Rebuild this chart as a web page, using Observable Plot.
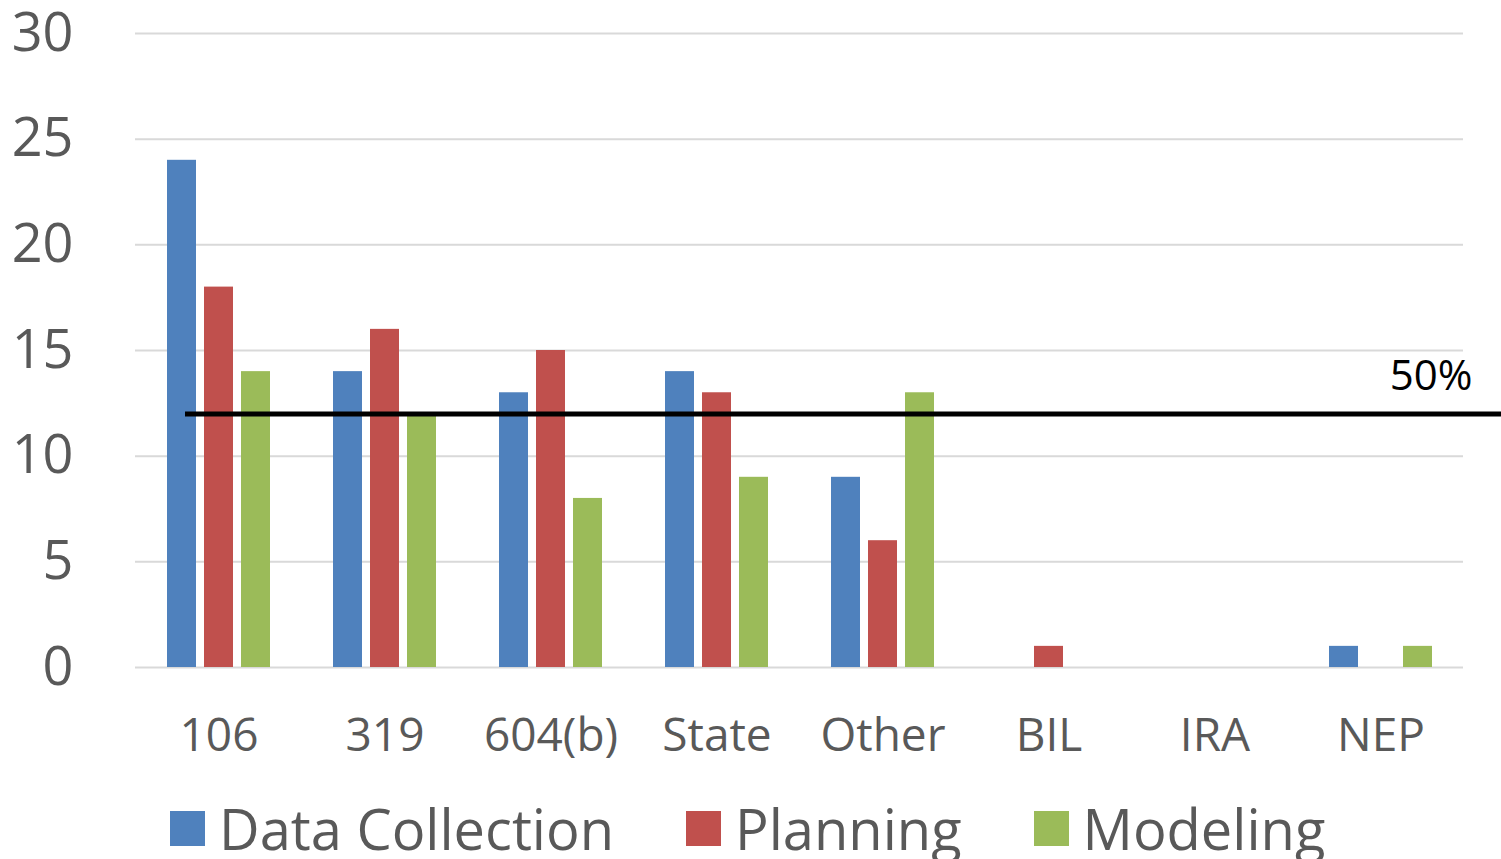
<!DOCTYPE html>
<html><head><meta charset="utf-8">
<script src="https://cdn.jsdelivr.net/npm/d3@7"></script>
<script src="https://cdn.jsdelivr.net/npm/@observablehq/plot@0.6"></script>
<style>
html,body{margin:0;padding:0;background:#fff;}
body{width:1501px;height:859px;overflow:hidden;font-family:"Open Sans",sans-serif;}
#chart svg{display:block;}
.lg-swatches{font-family:"Open Sans",sans-serif;font-size:56px;color:#595959;margin:0 0 0 170px;}
.lg-swatches-wrap .lg-swatch{margin-right:72px;}
.lg-swatch > svg{margin-right:14px;}
</style></head><body><div id="chart"></div><script>
const categories = ["106", "319", "604(b)", "State", "Other", "BIL", "IRA", "NEP"];
const seriesNames = ["Data Collection", "Planning", "Modeling"];
const seriesColors = ["#4F81BD", "#C0504D", "#9BBB59"];
const dataCollection = [24, 14, 13, 14, 9, 0, 0, 1];
const planning = [18, 16, 15, 13, 6, 1, 0, 0];
const modeling = [14, 12, 8, 9, 13, 0, 0, 1];
const yTicks = [0, 5, 10, 15, 20, 25, 30];
const threshold = 12;
const thresholdLabel = "50%";

const seriesValues = [dataCollection, planning, modeling];
const insets = [[0, 74], [37, 37], [74, 0]];

const barMarks = seriesNames.map((name, s) => {
  const rows = categories.map((c, i) => ({category: c, series: name, value: seriesValues[s][i]}));
  return Plot.barY(rows, {
    x: "category", y: "value", fill: "series",
    insetLeft: insets[s][0], insetRight: insets[s][1]
  });
});

const plot = Plot.plot({
  width: 1501,
  height: 790,
  marginTop: 33,
  marginLeft: 135,
  marginRight: 38,
  marginBottom: 123,
  style: {fontFamily: "Open Sans, sans-serif", background: "#fff"},
  x: {type: "band", domain: categories, paddingInner: 0.38, paddingOuter: 0.19, label: null},
  y: {domain: [0, 30], label: null},
  color: {domain: seriesNames, range: seriesColors},
  marks: [
    Plot.ruleY(yTicks, {stroke: "#d9d9d9", strokeWidth: 2}),
    ...barMarks,
    Plot.ruleY([threshold], {stroke: "#000", strokeWidth: 5, insetLeft: 50, insetRight: -38}),
    Plot.text([thresholdLabel], {text: d => d, y: () => threshold, frameAnchor: "right", textAnchor: "end", dx: 9, dy: -37, fontSize: 42, fill: "#000"}),
    Plot.axisY({ticks: yTicks, tickSize: 0, tickPadding: 62, fontSize: 54, color: "#595959", label: null}),
    Plot.axisX({tickSize: 0, tickPadding: 51, fontSize: 46, color: "#595959", label: null})
  ]
});

const legend = plot.legend("color", {swatchSize: 35, className: "lg"});
document.getElementById("chart").append(plot, legend);
</script></body></html>
